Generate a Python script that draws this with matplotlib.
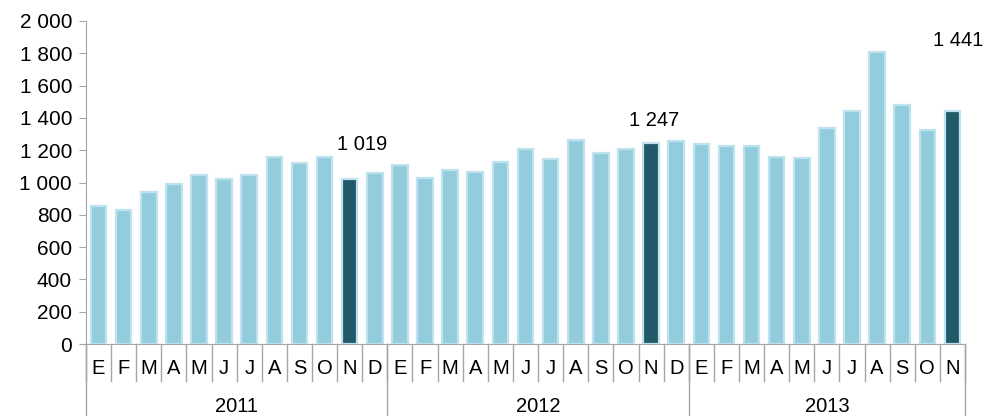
import matplotlib.pyplot as plt
from matplotlib.ticker import FuncFormatter

plt.rcParams['font.family'] = ['Liberation Sans', 'DejaVu Sans']

# monthly values, Jan 2011 .. Nov 2013
months = ['E', 'F', 'M', 'A', 'M', 'J', 'J', 'A', 'S', 'O', 'N', 'D'] * 3
months = months[:35]
years = ['2011', '2012', '2013']
year_counts = [12, 12, 11]
values = [854, 830, 941, 989, 1044, 1024, 1048, 1160, 1123, 1156, 1019, 1061,
          1110, 1030, 1077, 1065, 1127, 1209, 1143, 1263, 1180, 1207, 1247, 1257,
          1236, 1229, 1223, 1160, 1152, 1339, 1443, 1810, 1478, 1327, 1441]
highlight = [10, 22, 34]   # Novembers
label_offsets = {10: (9, 18), 22: (2, 9), 34: (4, 44)}

light = '#93CDDD'
dark = '#215968'
edge = '#BFE3EE'
grey = '#A6A6A6'

fig = plt.figure(figsize=(9.84, 4.16), dpi=100)
ax = fig.add_axes([86 / 984, 72 / 416, 879 / 984, 323 / 416])

x = list(range(len(values)))
colors = [dark if i in highlight else light for i in x]
ax.bar(x, values, width=0.62, color=colors, edgecolor=edge, linewidth=1.6)

for i in highlight:
    lbl = f'{values[i]:,}'.replace(',', ' ')
    ax.annotate(lbl, xy=(i, values[i]), xytext=label_offsets[i],
                textcoords='offset points', ha='center', va='bottom', fontsize=14.5)

ax.set_xlim(-0.5, len(values) - 0.5)
ax.set_ylim(0, 2000)
ax.set_yticks(range(0, 2001, 200))
ax.yaxis.set_major_formatter(FuncFormatter(lambda v, p: f'{int(v):,}'.replace(',', ' ')))
ax.tick_params(axis='y', labelsize=15, color=grey, length=5, pad=5)
ax.set_xticks([])

for s in ['top', 'right']:
    ax.spines[s].set_visible(False)
ax.spines['left'].set_color(grey)
ax.spines['bottom'].set_color(grey)

tr = ax.get_xaxis_transform()
# month separators and labels
for i in range(len(values) + 1):
    ax.plot([i - 0.5, i - 0.5], [0, -0.115], transform=tr, color=grey,
            lw=1, clip_on=False)
for i, m in enumerate(months):
    ax.text(i, -0.075, m, transform=tr, ha='center', va='center', fontsize=14.5)

# year separators and labels
start = 0
for yr, n in zip(years, year_counts):
    ax.plot([start - 0.5, start - 0.5], [0, -0.25], transform=tr, color=grey,
            lw=1, clip_on=False)
    ax.text(start + (n - 1) / 2, -0.195, yr, transform=tr, ha='center',
            va='center', fontsize=14.5)
    start += n
ax.plot([start - 0.5, start - 0.5], [0, -0.25], transform=tr, color=grey,
        lw=1, clip_on=False)

fig.savefig('out.png', dpi=100)
